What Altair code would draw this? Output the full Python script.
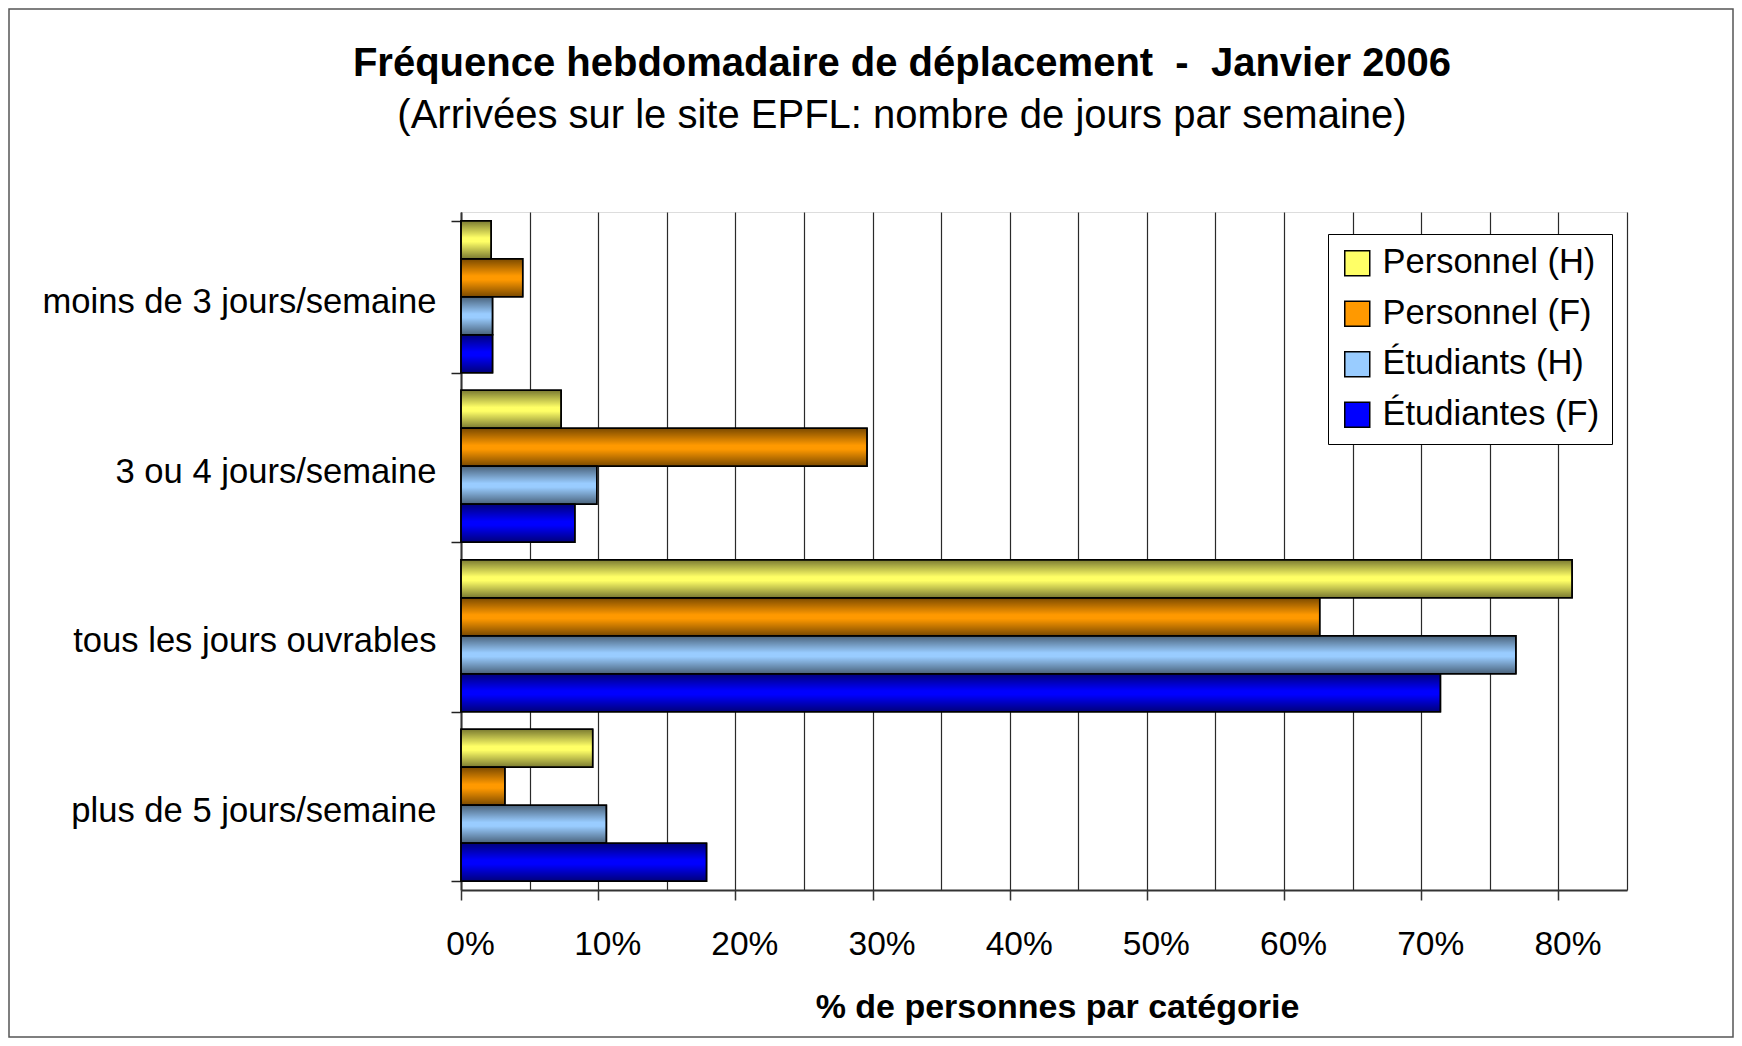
import altair as alt
import pandas as pd

categories = [
    "moins de 3 jours/semaine",
    "3 ou 4 jours/semaine",
    "tous les jours ouvrables",
    "plus de 5 jours/semaine",
]
series = ["Personnel (H)", "Personnel (F)", "Étudiants (H)", "Étudiantes (F)"]
colors = ["#FFFF66", "#FF9900", "#99CCFF", "#0000FF"]

# percentages per category (same order as categories)
personnel_h = [2.2, 7.3, 81.0, 9.6]
personnel_f = [4.5, 29.6, 62.6, 3.2]
etudiants_h = [2.3, 9.9, 76.9, 10.6]
etudiantes_f = [2.3, 8.3, 71.4, 17.9]

x_ticks = list(range(0, 90, 5))

title_text = "Fréquence hebdomadaire de déplacement \u00a0-\u00a0 Janvier 2006"
subtitle_text = "(Arrivées sur le site EPFL: nombre de jours par semaine)"

rows = []
for s, vals in zip(series, [personnel_h, personnel_f, etudiants_h, etudiantes_f]):
    for c, v in zip(categories, vals):
        rows.append({"cat": c, "serie": s, "val": v})
df = pd.DataFrame(rows)

FONT = "Liberation Sans, Arial, sans-serif"
AXC = "#333"

x_enc = alt.X(
    "val:Q",
    scale=alt.Scale(domain=[0, 85], nice=False, zero=True),
    axis=alt.Axis(
        values=x_ticks,
        labelExpr="datum.value % 10 === 0 ? datum.value + '%' : ''",
        labelOverlap=False,
        labelFlush=False,
        labelFont=FONT,
        labelFontSize=33.5,
        labelColor="black",
        labelPadding=28,
        labelOffset=9,
        grid=True,
        gridColor="#2a2a2a",
        gridWidth=1.2,
        tickSize=10,
        tickColor=AXC,
        tickWidth=1.5,
        tickOpacity={"condition": {"test": "datum.value % 10 === 0", "value": 1}, "value": 0},
        domainColor=AXC,
        domainWidth=2,
        title="% de personnes par catégorie",
        titleFont=FONT,
        titleFontSize=34,
        titleFontWeight="bold",
        titleColor="black",
        titleX=596,
        titleY=127,
        titleBaseline="alphabetic",
        titleAlign="center",
    ),
)

y_enc = alt.Y(
    "cat:N",
    sort=categories,
    scale=alt.Scale(paddingInner=0.103, paddingOuter=0.0516),
    axis=alt.Axis(
        title=None,
        tickBand="extent",
        tickSize=10,
        tickColor="#222",
        tickWidth=1.5,
        domainColor=AXC,
        domainWidth=2,
        labelFont=FONT,
        labelFontSize=34.6,
        labelColor="black",
        labelPadding=15,
        labelOffset=6,
        labelLimit=600,
        grid=False,
    ),
)

yoff_enc = alt.YOffset("serie:N", sort=series, scale=alt.Scale(paddingInner=0, paddingOuter=0))

color_enc = alt.Color(
    "serie:N",
    sort=series,
    scale=alt.Scale(domain=series, range=colors),
    legend=alt.Legend(
        title=None,
        orient="none",
        legendX=867,
        legendY=22,
        symbolType="square",
        symbolSize=625,
        symbolStrokeColor="black",
        symbolStrokeWidth=1.5,
        symbolOpacity=1,
        labelFont=FONT,
        labelFontSize=34.5,
        labelColor="black",
        labelOffset=8,
        labelLimit=500,
        rowPadding=15.5,
        padding=12,
        strokeColor="black",
        fillColor="white",
    ),
)

shade = alt.LinearGradient(
    gradient="linear",
    x1=0, x2=0, y1=0, y2=1,
    stops=[
        alt.GradientStop(color="rgba(0,0,0,0.52)", offset=0),
        alt.GradientStop(color="rgba(0,0,0,0)", offset=0.45),
        alt.GradientStop(color="rgba(0,0,0,0)", offset=0.55),
        alt.GradientStop(color="rgba(0,0,0,0.52)", offset=1),
    ],
)

base = alt.Chart(df).encode(x=x_enc, y=y_enc, yOffset=yoff_enc)
bars = base.mark_bar(stroke="black", strokeWidth=1.5, opacity=1).encode(color=color_enc)
shading = base.mark_bar(fill=shade, stroke="black", strokeWidth=1.5)

one = pd.DataFrame({"a": [0]})

frame = alt.Chart(one).mark_rect(
    fill="white", fillOpacity=0, stroke="#555", strokeWidth=1.5
).encode(
    x=alt.value(-452), x2=alt.value(1272), y=alt.value(-203), y2=alt.value(825)
)

title = alt.Chart(one).mark_text(
    font=FONT, fontSize=40, fontWeight="bold", color="black",
    align="center", baseline="alphabetic",
).encode(x=alt.value(441), y=alt.value(-136), text=alt.value(title_text))

subtitle = alt.Chart(one).mark_text(
    font=FONT, fontSize=40, fontWeight="normal", color="black",
    align="center", baseline="alphabetic",
).encode(x=alt.value(441), y=alt.value(-84), text=alt.value(subtitle_text))

chart = alt.layer(frame, bars, shading, title, subtitle).properties(
    width=1166,
    height=678,
    autosize=alt.AutoSizeParams(type="none"),
    padding={"left": 453, "top": 204, "right": 107, "bottom": 148},
).configure_view(stroke="#999", strokeWidth=2).configure(background="white")

chart.save("out.html", embed_options={"renderer": "svg", "actions": False})
